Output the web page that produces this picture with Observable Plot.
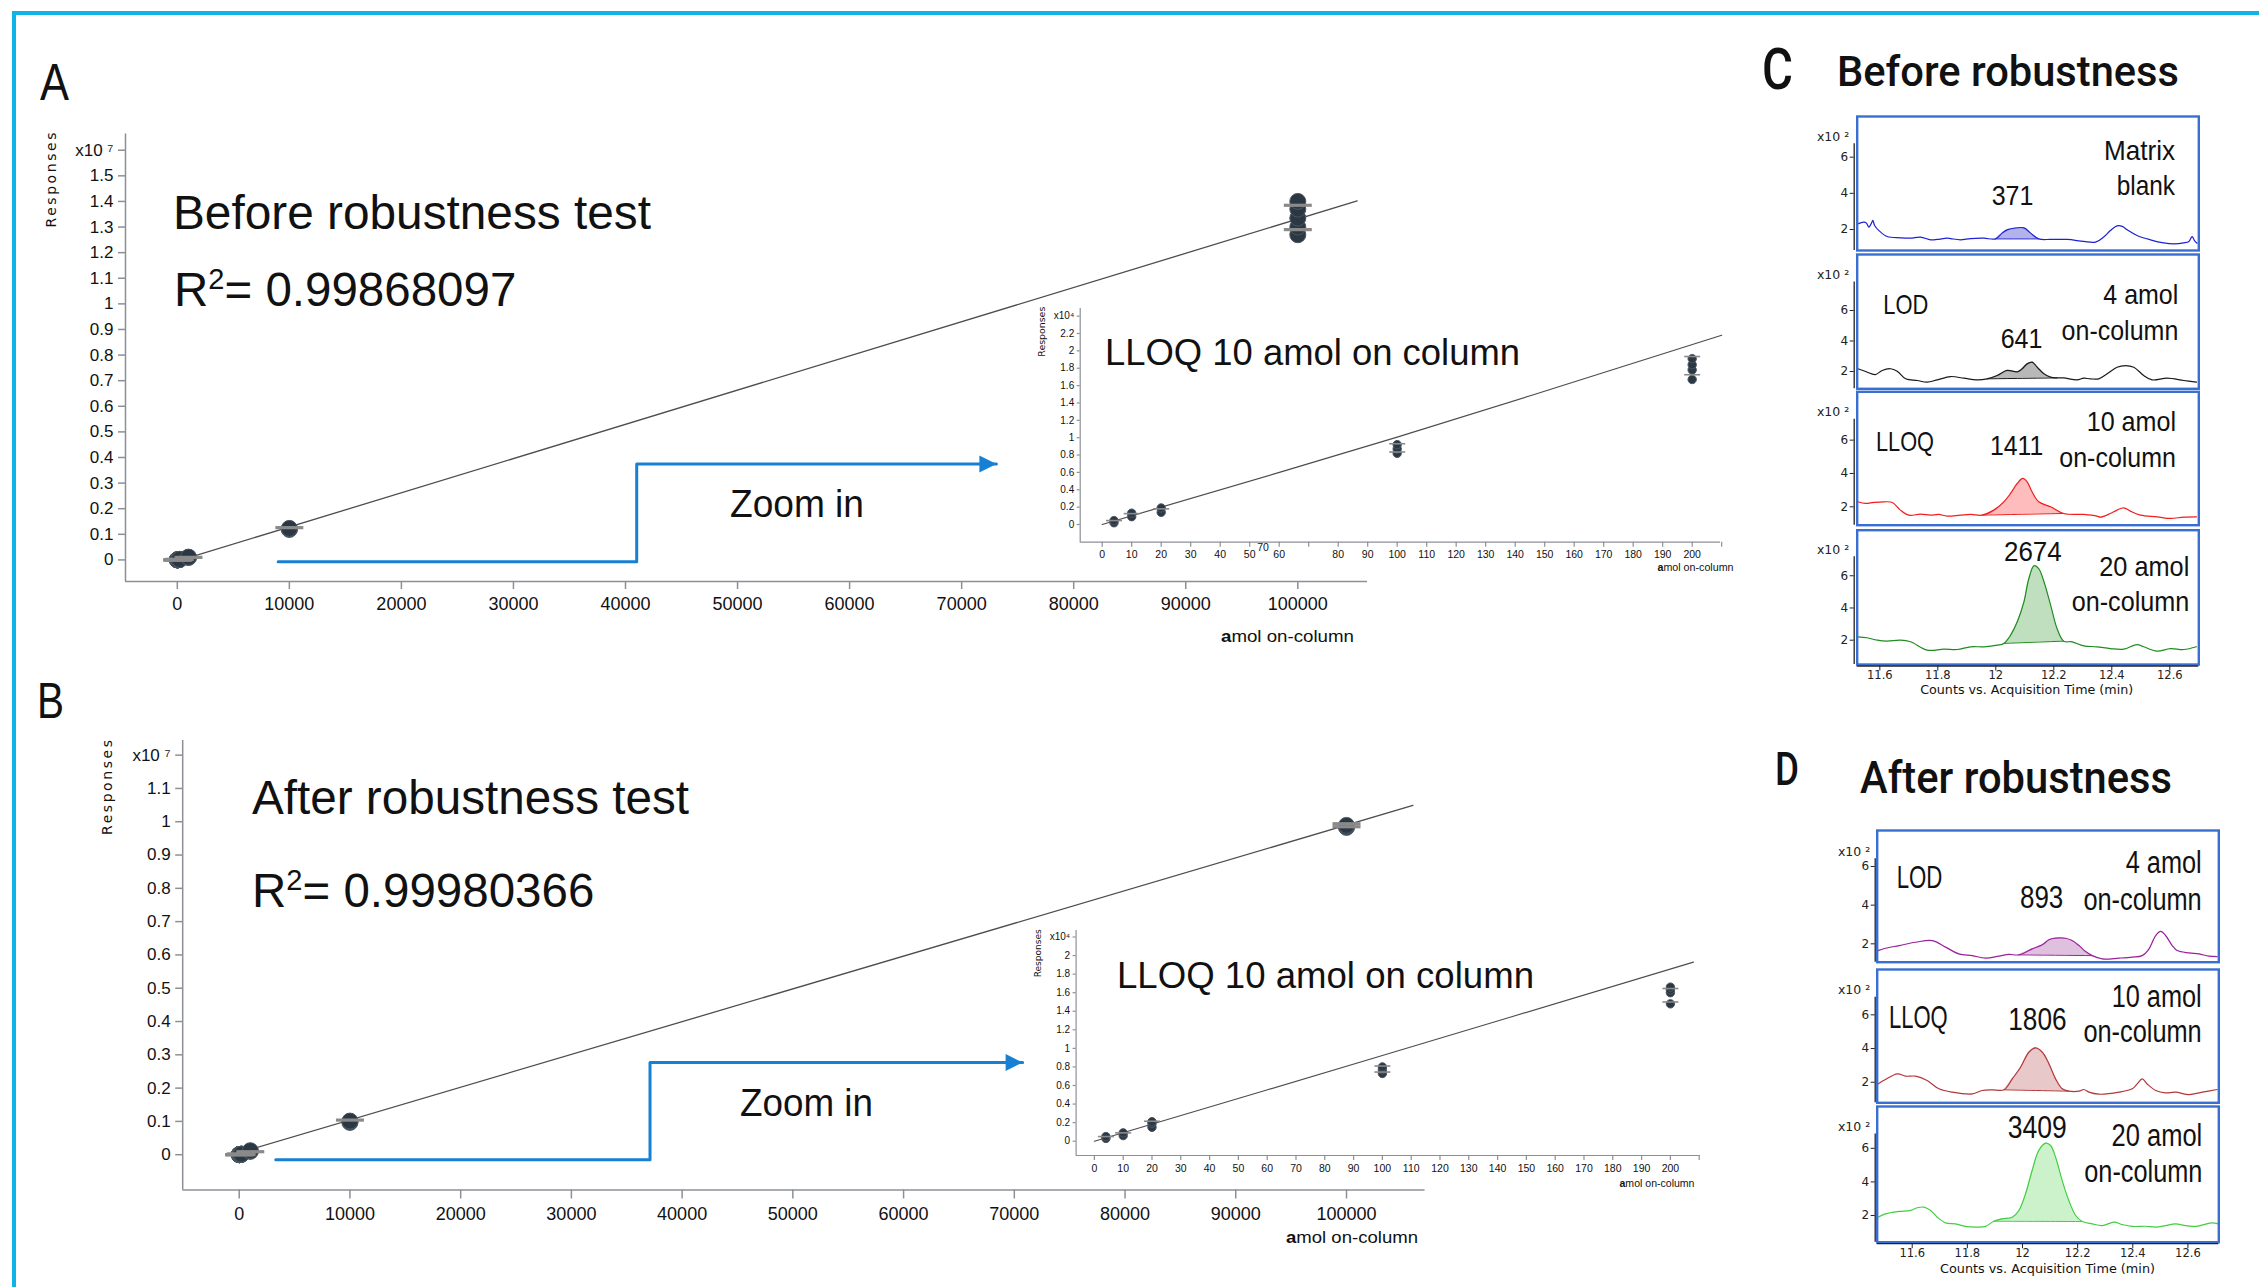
<!DOCTYPE html>
<html>
<head>
<meta charset="utf-8">
<title>Calibration curves and chromatograms before and after robustness testing</title>
<script src="https://cdn.jsdelivr.net/npm/d3@7"></script>
<script src="https://cdn.jsdelivr.net/npm/@observablehq/plot@0.6"></script>
<style>
  html, body { margin: 0; padding: 0; background: #fff; overflow: hidden; }
  #page { position: relative; width: 2259px; height: 1287px; overflow: hidden; background: #fff; }
  #page > svg { position: absolute; left: 0; top: 0; }
  #page .border { position: absolute; background: #0fb3e6; }
</style>
</head>
<body>
<div id="page"></div>
<script>
// ---------------------------------------------------------------------------
// Calibration data (amol on-column vs. response counts)
// ---------------------------------------------------------------------------
const levels = [4, 10, 20, 100, 200, 1000, 10000, 100000];

// replicate responses, before the robustness test
const responsesBefore = [
  [200, 450],
  [900, 1300],
  [1400, 1900],
  [8200, 8700, 9200],
  [16700, 17800, 18400, 19100],
  [95000, 110000],
  [1190000, 1210000, 1230000],
  [12700000, 13000000, 13350000, 13700000, 14000000]
];
// mean / spread markers, before
const barsBefore = [
  [450], [1250], [1800], [9300, 8350], [19350, 17250],
  [100000], [1260000], [13850000, 12900000]
];

// replicate responses, after the robustness test
const responsesAfter = [
  [300, 500],
  [600, 900],
  [1500, 1900, 2100],
  [7300, 7700, 8000],
  [14800, 16000, 16300, 16600],
  [100000, 120000],
  [970000, 990000, 1010000],
  [9830000, 9860000, 9890000]
];
const barsAfter = [
  [500], [900], [2150], [8100, 7450], [16450, 15000],
  [90000], [1040000], [9940000, 9850000]
];

// calibration fit lines
const fitBeforeMain  = {x: [0, 105300], y: [-50000, 14020000]};
const fitBeforeInset = {x: [0, 100, 210], y: [0, 10060, 21800]};
const fitAfterMain   = {x: [0, 106000], y: [60000, 10490000]};
const fitAfterInset  = {x: [0, 100, 208], y: [0, 9230, 19290]};

// "Zoom in" connector paths (x in amol, y in x10^7 counts)
const zoomArrowBefore = {x: [9000, 41000, 41000, 73100], y: [-0.007, -0.007, 0.375, 0.375]};
const zoomArrowAfter  = {x: [3300, 37100, 37100, 70750], y: [-0.015, -0.015, 0.277, 0.277]};

// axis ticks and labels
const mainTicksX  = [0, 10000, 20000, 30000, 40000, 50000, 60000, 70000, 80000, 90000, 100000];
const mainLabelsX = ["0", "10000", "20000", "30000", "40000", "50000", "60000", "70000", "80000", "90000", "100000"];
const ticksYBefore  = [0, 0.1, 0.2, 0.3, 0.4, 0.5, 0.6, 0.7, 0.8, 0.9, 1, 1.1, 1.2, 1.3, 1.4, 1.5, 1.6];
const labelsYBefore = ["0", "0.1", "0.2", "0.3", "0.4", "0.5", "0.6", "0.7", "0.8", "0.9", "1", "1.1", "1.2", "1.3", "1.4", "1.5", "x10 \u2077"];
const ticksYAfter   = [0, 0.1, 0.2, 0.3, 0.4, 0.5, 0.6, 0.7, 0.8, 0.9, 1, 1.1, 1.2];
const labelsYAfter  = ["0", "0.1", "0.2", "0.3", "0.4", "0.5", "0.6", "0.7", "0.8", "0.9", "1", "1.1", "x10 \u2077"];

const insetTicksX = [0, 10, 20, 30, 40, 50, 60, 70, 80, 90, 100, 110, 120, 130, 140, 150, 160, 170, 180, 190, 200, 210];
const insetLabelsXBefore = ["0", "10", "20", "30", "40", "50", "60", "", "80", "90", "100", "110", "120", "130", "140", "150", "160", "170", "180", "190", "200", ""];
const insetLabelsXAfter  = ["0", "10", "20", "30", "40", "50", "60", "70", "80", "90", "100", "110", "120", "130", "140", "150", "160", "170", "180", "190", "200", ""];
const insetStrayLabelBefore = {text: "70", at: 54.5};
const insetTicksYBefore  = [0, 0.2, 0.4, 0.6, 0.8, 1, 1.2, 1.4, 1.6, 1.8, 2, 2.2, 2.4];
const insetLabelsYBefore = ["0", "0.2", "0.4", "0.6", "0.8", "1", "1.2", "1.4", "1.6", "1.8", "2", "2.2", "x10\u2074"];
const insetTicksYAfter   = [0, 0.2, 0.4, 0.6, 0.8, 1, 1.2, 1.4, 1.6, 1.8, 2, 2.2];
const insetLabelsYAfter  = ["0", "0.2", "0.4", "0.6", "0.8", "1", "1.2", "1.4", "1.6", "1.8", "2", "x10\u2074"];

// ---------------------------------------------------------------------------
// Extracted ion chromatograms (time in min, counts in x10^2)
// ---------------------------------------------------------------------------
const timeTicks  = [11.6, 11.8, 12, 12.2, 12.4, 12.6];
const timeLabels = ["11.6", "11.8", "12", "12.2", "12.4", "12.6"];
const intensityTicks = [2, 4, 6];

// C: before robustness
const blankT = [11.524, 11.545, 11.554, 11.562, 11.570, 11.576, 11.582, 11.597, 11.625, 11.671, 11.706, 11.740, 11.775, 11.798, 11.832, 11.844, 11.878, 11.913, 11.959, 11.999, 12.022, 12.039, 12.062, 12.097, 12.120, 12.148, 12.189, 12.246, 12.303, 12.344, 12.372, 12.395, 12.418, 12.436, 12.453, 12.487, 12.533, 12.579, 12.614, 12.648, 12.666, 12.677, 12.685, 12.694];
const blankV = [2.31, 2.41, 2.35, 2.13, 2.31, 2.50, 2.22, 1.94, 1.61, 1.54, 1.52, 1.58, 1.43, 1.45, 1.52, 1.50, 1.43, 1.50, 1.52, 1.48, 1.80, 1.98, 2.07, 2.09, 1.80, 1.48, 1.45, 1.45, 1.34, 1.30, 1.58, 1.94, 2.20, 2.17, 1.98, 1.67, 1.43, 1.26, 1.21, 1.26, 1.34, 1.61, 1.39, 1.24];
const blankPeak = [11.999, 12.148];

const lodBeforeT = [11.524, 11.551, 11.585, 11.608, 11.637, 11.660, 11.689, 11.729, 11.763, 11.798, 11.844, 11.890, 11.936, 11.970, 12.005, 12.039, 12.074, 12.091, 12.108, 12.125, 12.143, 12.166, 12.189, 12.211, 12.234, 12.280, 12.303, 12.326, 12.355, 12.384, 12.418, 12.447, 12.476, 12.510, 12.539, 12.591, 12.648, 12.692];
const lodBeforeV = [2.18, 2.00, 1.80, 2.07, 2.18, 2.02, 1.52, 1.41, 1.30, 1.45, 1.67, 1.56, 1.45, 1.52, 1.74, 2.07, 1.98, 2.18, 2.50, 2.61, 2.28, 1.85, 1.63, 1.58, 1.58, 1.45, 1.56, 1.52, 1.52, 1.85, 2.28, 2.39, 2.28, 1.74, 1.45, 1.56, 1.41, 1.30];
const lodBeforePeak = [11.970, 12.211];

const lloqBeforeT = [11.524, 11.551, 11.579, 11.614, 11.643, 11.671, 11.700, 11.740, 11.775, 11.803, 11.832, 11.878, 11.913, 11.953, 11.993, 12.028, 12.051, 12.074, 12.093, 12.108, 12.125, 12.148, 12.189, 12.234, 12.303, 12.349, 12.361, 12.395, 12.418, 12.441, 12.464, 12.499, 12.556, 12.602, 12.648, 12.692];
const lloqBeforeV = [2.30, 2.20, 2.26, 2.30, 2.26, 1.80, 1.50, 1.56, 1.50, 1.54, 1.44, 1.50, 1.54, 1.50, 1.80, 2.30, 2.80, 3.40, 3.70, 3.50, 2.90, 2.30, 2.00, 1.60, 1.54, 1.44, 1.38, 1.60, 1.80, 1.94, 1.74, 1.50, 1.40, 1.30, 1.38, 1.40];
const lloqBeforePeak = [11.953, 12.234];

const amol20BeforeT = [11.524, 11.556, 11.591, 11.625, 11.671, 11.706, 11.763, 11.821, 11.867, 11.913, 11.959, 12.005, 12.028, 12.051, 12.074, 12.097, 12.114, 12.132, 12.148, 12.166, 12.189, 12.211, 12.234, 12.263, 12.303, 12.349, 12.395, 12.441, 12.487, 12.510, 12.556, 12.602, 12.648, 12.692];
const amol20BeforeV = [2.21, 2.15, 2.00, 1.94, 2.00, 1.90, 1.38, 1.44, 1.42, 1.59, 1.59, 1.69, 1.80, 2.31, 3.14, 4.38, 5.83, 6.62, 6.45, 5.63, 4.18, 2.73, 1.94, 1.90, 1.65, 1.59, 1.48, 1.44, 1.73, 1.59, 1.32, 1.48, 1.42, 1.59];
const amol20BeforePeak = [12.028, 12.234];

// D: after robustness
const lodAfterT = [11.476, 11.503, 11.552, 11.612, 11.673, 11.721, 11.769, 11.818, 11.866, 11.914, 11.951, 11.987, 12.035, 12.072, 12.096, 12.120, 12.156, 12.180, 12.205, 12.229, 12.253, 12.289, 12.350, 12.398, 12.434, 12.459, 12.483, 12.501, 12.519, 12.543, 12.561, 12.604, 12.640, 12.676, 12.706];
const lodAfterV = [1.65, 1.77, 1.91, 2.08, 2.17, 1.83, 1.48, 1.39, 1.26, 1.36, 1.45, 1.43, 1.74, 1.95, 2.21, 2.29, 2.29, 2.17, 1.91, 1.60, 1.39, 1.22, 1.26, 1.31, 1.39, 1.74, 2.43, 2.64, 2.43, 1.91, 1.65, 1.53, 1.48, 1.36, 1.34];
const lodAfterPeak = [11.987, 12.253];

const lloqAfterT = [11.476, 11.503, 11.546, 11.576, 11.612, 11.654, 11.697, 11.745, 11.818, 11.854, 11.890, 11.933, 11.963, 11.993, 12.023, 12.047, 12.072, 12.096, 12.120, 12.144, 12.168, 12.205, 12.223, 12.241, 12.277, 12.350, 12.398, 12.416, 12.434, 12.452, 12.483, 12.519, 12.555, 12.604, 12.652, 12.706];
const lloqAfterV = [1.90, 2.16, 2.50, 2.36, 2.36, 2.10, 1.61, 1.41, 1.31, 1.51, 1.55, 1.55, 2.20, 2.89, 3.78, 4.04, 3.78, 3.09, 2.20, 1.61, 1.47, 1.47, 1.57, 1.41, 1.29, 1.41, 1.61, 1.90, 2.20, 1.90, 1.51, 1.37, 1.41, 1.27, 1.41, 1.57];
const lloqAfterPeak = [11.933, 12.168];

const amol20AfterT = [11.476, 11.503, 11.552, 11.594, 11.618, 11.642, 11.667, 11.691, 11.721, 11.757, 11.793, 11.830, 11.866, 11.896, 11.926, 11.963, 11.987, 12.011, 12.035, 12.059, 12.084, 12.102, 12.120, 12.144, 12.168, 12.193, 12.217, 12.253, 12.289, 12.332, 12.362, 12.398, 12.446, 12.483, 12.519, 12.555, 12.592, 12.628, 12.658, 12.688, 12.710];
const amol20AfterV = [1.90, 2.10, 2.24, 2.30, 2.46, 2.50, 2.30, 1.90, 1.56, 1.50, 1.35, 1.31, 1.35, 1.66, 1.80, 1.90, 2.30, 3.29, 4.68, 5.87, 6.31, 6.17, 5.47, 4.08, 2.89, 2.00, 1.64, 1.50, 1.40, 1.60, 1.46, 1.35, 1.36, 1.31, 1.40, 1.50, 1.40, 1.35, 1.46, 1.56, 1.50];
const amol20AfterPeak = [11.896, 12.217];

// ---------------------------------------------------------------------------
// Styling
// ---------------------------------------------------------------------------
const W = 2259, H = 1287;
const SANS  = "'Liberation Sans', Arial, Helvetica, sans-serif";
const WIDE  = "'DejaVu Sans', Verdana, sans-serif";
const TITLE = "Roboto, 'Liberation Sans', sans-serif";
const AXIS_GRAY = "#8c9096";
const DOT_FILL = "#2c3744", DOT_EDGE = "#4b5663";
const BAR_GRAY = "#8a8a8a";
const ZOOM_BLUE = "#1681d4";
const FIT_COLOR = "#4d4d4d";
const BOX_BLUE = "#3a6fd2";

const page = document.getElementById("page");
[[12, 11, W - 12, 4], [12, 11, 4, H - 11]].forEach(([l, t, w, h]) => {
  const d = document.createElement("div");
  d.className = "border";
  Object.assign(d.style, {left: l + "px", top: t + "px", width: w + "px", height: h + "px"});
  page.appendChild(d);
});

// horizontal mean marker drawn as a fixed-length line
const meanBar = half => ({draw(ctx) { ctx.moveTo(-half, 0); ctx.lineTo(half, 0); }});
// filled arrow head with its tip on the point
const arrowHead = {draw(ctx) { ctx.moveTo(0, 0); ctx.lineTo(-17, -8.5); ctx.lineTo(-17, 8.5); ctx.closePath(); }};

const replicateRows = resp => levels.flatMap((level, i) => resp[i].map(r => ({level, r})));

function framed(frame, xDomain, yDomain, marks, extra = {}) {
  const [left, right, top, bottom] = frame;
  return Plot.plot({
    width: W, height: H,
    marginLeft: left, marginRight: W - right, marginTop: top, marginBottom: H - bottom,
    x: {domain: xDomain, ...(extra.x || {})},
    y: {domain: yDomain, ...(extra.y || {})},
    style: {background: "transparent", overflow: "visible"},
    marks
  });
}

function calibration(c) {
  const rows = replicateRows(c.responses).filter(d => d.level <= c.maxLevel);
  const bars = replicateRows(c.bars).filter(d => d.level <= c.maxLevel);
  const fit = c.fit.x.map((x, i) => ({x, y: c.fit.y[i] / c.unit}));
  const xLab = new Map(c.xTicks.map((t, i) => [t, c.xLabels[i]]));
  const yLab = new Map(c.yTicks.map((t, i) => [t, c.yLabels[i]]));
  const marks = [
    Plot.ruleY([c.yDomain[0]], {stroke: AXIS_GRAY, strokeWidth: c.axisWidth}),
    Plot.ruleX([c.xDomain[0]], {stroke: AXIS_GRAY, strokeWidth: c.axisWidth}),
    Plot.axisX({ticks: c.xTicks, tickFormat: d => xLab.get(d), tickSize: c.xTickSize, tickPadding: c.xTickPadding,
      fontSize: c.xFont, fontFamily: SANS, stroke: AXIS_GRAY, strokeWidth: c.axisWidth, fill: "#111", label: null}),
    Plot.axisY({ticks: c.yTicks, tickFormat: d => yLab.get(d), tickSize: c.yTickSize, tickPadding: c.yTickPadding,
      fontSize: c.yFont, fontFamily: SANS, stroke: AXIS_GRAY, strokeWidth: c.axisWidth, fill: "#111", label: null}),
    Plot.line(fit, {x: "x", y: "y", stroke: FIT_COLOR, strokeWidth: c.fitWidth, curve: "catmull-rom"}),
    Plot.dot(rows, {x: "level", y: d => d.r / c.unit, r: c.dotR, fill: DOT_FILL, stroke: DOT_EDGE, strokeWidth: 1}),
    Plot.dot(bars, {x: "level", y: d => d.r / c.unit, symbol: meanBar(c.barHalf), fill: "none", stroke: BAR_GRAY, strokeWidth: c.barWidth})
  ];
  if (c.arrow) {
    const path = c.arrow.x.map((x, i) => ({x, y: c.arrow.y[i]}));
    marks.push(
      Plot.line(path, {x: "x", y: "y", stroke: ZOOM_BLUE, strokeWidth: 3}),
      Plot.dot(path.slice(-1), {x: "x", y: "y", symbol: arrowHead, fill: ZOOM_BLUE, stroke: "none"})
    );
  }
  if (c.stray) {
    marks.push(Plot.text([c.stray.text], {x: () => c.stray.at, y: () => c.yDomain[0], text: d => d, dy: 5,
      fontSize: c.xFont, fontFamily: SANS, fill: "#111"}));
  }
  return framed(c.frame, c.xDomain, c.yDomain, marks);
}

const mainCommon = {maxLevel: Infinity, unit: 1e7, xTicks: mainTicksX, xLabels: mainLabelsX,
  axisWidth: 1.5, xFont: 18, yFont: 17, xTickSize: 8, xTickPadding: 8, yTickSize: 7, yTickPadding: 5,
  dotR: 8, barHalf: 14, barWidth: 3.2, fitWidth: 1.3};
const insetCommon = {maxLevel: 200, unit: 1e4, xTicks: insetTicksX,
  axisWidth: 1.2, xFont: 10.5, yFont: 10, xTickSize: 5, xTickPadding: 3, yTickSize: 3, yTickPadding: 3,
  dotR: 4.2, barHalf: 8, barWidth: 1.6, fitWidth: 1.2};

const charts = [
  calibration({...mainCommon, frame: [125, 1367, 133.6, 581], xDomain: [-4623, 106220], yDomain: [-0.0843, 1.663],
    responses: responsesBefore, bars: barsBefore, fit: fitBeforeMain, yTicks: ticksYBefore, yLabels: labelsYBefore,
    arrow: zoomArrowBefore}),
  calibration({...insetCommon, frame: [1079.7, 1720, 308, 541.7], xDomain: [-7.46, 209.6], yDomain: [-0.204, 2.488],
    responses: responsesBefore, bars: barsBefore, fit: fitBeforeInset, xLabels: insetLabelsXBefore,
    yTicks: insetTicksYBefore, yLabels: insetLabelsYBefore, stray: insetStrayLabelBefore}),
  calibration({...mainCommon, frame: [182.2, 1424.6, 740, 1189.5], xDomain: [-5103, 107098], yDomain: [-0.106, 1.244],
    responses: responsesAfter, bars: barsAfter, fit: fitAfterMain, yTicks: ticksYAfter, yLabels: labelsYAfter,
    xTickSize: 9, arrow: zoomArrowAfter}),
  calibration({...insetCommon, frame: [1075.6, 1699.7, 930, 1155], xDomain: [-6.35, 210.35], yDomain: [-0.154, 2.27],
    responses: responsesAfter, bars: barsAfter, fit: fitAfterInset, xLabels: insetLabelsXAfter,
    yTicks: insetTicksYAfter, yLabels: insetLabelsYAfter, xTickPadding: 4})
];

function chromatogram(c) {
  const pts = c.t.map((t, i) => ({t, v: c.v[i]}));
  const i0 = c.t.indexOf(c.peak[0]), i1 = c.t.indexOf(c.peak[1]);
  const b0 = c.v[i0], b1 = c.v[i1];
  const peak = pts.slice(i0, i1 + 1).map(d => ({...d, base: b0 + (b1 - b0) * (d.t - c.peak[0]) / (c.peak[1] - c.peak[0])}));
  const x0 = c.xDomain[0];
  const tLab = new Map(timeTicks.map((t, i) => [t, timeLabels[i]]));
  const marks = [
    Plot.areaY(peak, {x: "t", y1: "base", y2: "v", fill: c.fill, curve: "catmull-rom"}),
    Plot.line(peak, {x: "t", y: "base", stroke: c.stroke, strokeWidth: 1}),
    Plot.line(pts, {x: "t", y: "v", stroke: c.stroke, strokeWidth: 1.2, curve: "catmull-rom", clip: true}),
    Plot.ruleX([x0], {y1: c.axisTop, y2: c.yDomain[0], dx: c.axisDx, stroke: "#222", strokeWidth: 1.3}),
    Plot.axisY({ticks: intensityTicks, tickFormat: d => String(d), tickSize: 4, tickPadding: 2, dx: c.axisDx,
      fontSize: 12, fontFamily: WIDE, stroke: "#222", fill: "#222", label: null}),
    Plot.text(["x10 \u00b2"], {x: () => x0, y: () => c.axisTop, text: d => d, dx: c.axisDx - 5, dy: -3,
      textAnchor: "end", lineAnchor: "bottom", fontSize: 12.5, fontFamily: WIDE, fill: "#222"}),
    Plot.frame({stroke: BOX_BLUE, strokeWidth: 2.4})
  ];
  if (c.timeAxis) {
    marks.push(
      Plot.ruleY([c.yDomain[0]], {stroke: "#222", strokeWidth: 1.3, dy: 1.5}),
      Plot.axisX({ticks: timeTicks, tickFormat: d => tLab.get(d), tickSize: 5, tickPadding: 0, dy: 1.5,
        fontSize: 11.5, fontFamily: WIDE, stroke: "#222", fill: "#222", label: null})
    );
  }
  return framed(c.frame, c.xDomain, c.yDomain, marks, c.timeAxis ? {} : {x: {axis: null}});
}

const cX = [1856.7, 2198.3], cDomain = [11.522, 12.700];
const dX = [1876.7, 2218.3], dDomain = [11.473, 12.712];
charts.push(
  chromatogram({t: blankT, v: blankV, peak: blankPeak, stroke: "#1f1fd6", fill: "#b3b3ec",
    frame: [...cX, 116, 250], xDomain: cDomain, yDomain: [0.838, 8.25], axisTop: 6.74, axisDx: -3}),
  chromatogram({t: lodBeforeT, v: lodBeforeV, peak: lodBeforePeak, stroke: "#1a1a1a", fill: "#b8b8b8",
    frame: [...cX, 254, 388.3], xDomain: cDomain, yDomain: [0.866, 9.67], axisTop: 7.86, axisDx: -3}),
  chromatogram({t: lloqBeforeT, v: lloqBeforeV, peak: lloqBeforePeak, stroke: "#f21d1d", fill: "#ffbcbc",
    frame: [...cX, 391.3, 524.7], xDomain: cDomain, yDomain: [0.896, 8.90], axisTop: 7.25, axisDx: -3}),
  chromatogram({t: amol20BeforeT, v: amol20BeforeV, peak: amol20BeforePeak, stroke: "#1e8c1e", fill: "#bfdfbf",
    frame: [...cX, 529.7, 664], xDomain: cDomain, yDomain: [0.49, 8.83], axisTop: 7.18, axisDx: -3, timeAxis: true}),
  chromatogram({t: lodAfterT, v: lodAfterV, peak: lodAfterPeak, stroke: "#9a1f9a", fill: "#dfc0df",
    frame: [...dX, 830, 961.7], xDomain: dDomain, yDomain: [1.05, 7.86], axisTop: 6.4, axisDx: -2}),
  chromatogram({t: lloqAfterT, v: lloqAfterV, peak: lloqAfterPeak, stroke: "#b2373a", fill: "#e8c8c8",
    frame: [...dX, 969, 1102.3], xDomain: dDomain, yDomain: [0.78, 8.69], axisTop: 7.04, axisDx: -2}),
  chromatogram({t: amol20AfterT, v: amol20AfterV, peak: amol20AfterPeak, stroke: "#3fcf3f", fill: "#ccf2cc",
    frame: [...dX, 1106, 1241.7], xDomain: dDomain, yDomain: [0.41, 8.49], axisTop: 6.86, axisDx: -2, timeAxis: true})
);
charts.forEach(svg => page.appendChild(svg));

// ---------------------------------------------------------------------------
// Titles, panel letters and annotations
// ---------------------------------------------------------------------------
const ov = d3.select(page).append("svg").attr("width", W).attr("height", H);

function label(o) {
  const t = ov.append("text")
    .attr("x", o.x).attr("y", o.y)
    .attr("font-family", o.font || SANS).attr("font-size", o.size)
    .attr("font-weight", o.weight || "normal")
    .attr("text-anchor", o.anchor || "start").attr("fill", o.fill || "#111");
  if (o.width) t.attr("textLength", o.width).attr("lengthAdjust", o.adjust || "spacingAndGlyphs");
  if (o.rotate) t.attr("transform", `rotate(-90 ${o.x} ${o.y})`);
  if (o.parts) {
    o.parts.forEach(p => {
      const s = t.append("tspan").text(p.text);
      if (p.weight) s.attr("font-weight", p.weight);
      if (p.size) s.attr("font-size", p.size);
      if (p.dy) s.attr("dy", p.dy);
    });
  } else {
    t.text(o.text);
  }
  return t;
}

// panel letters
label({text: "A", x: 40, y: 100, size: 51, width: 29});
label({text: "B", x: 37, y: 718, size: 50, width: 27});
label({text: "C", x: 1762, y: 89, size: 58, font: TITLE, weight: 500, width: 31});
label({text: "D", x: 1775, y: 785, size: 47, font: TITLE, weight: 500, width: 24});

// calibration titles
label({text: "Before robustness test", x: 173, y: 228.5, size: 47.5, width: 478});
label({x: 174, y: 306, size: 47.5, parts: [
  {text: "R"}, {text: "2", size: 29, dy: -17}, {text: "= 0.99868097", size: 47.5, dy: 17}]});
label({text: "After robustness test", x: 252, y: 813.6, size: 47.5, width: 437});
label({x: 252, y: 906.5, size: 47.5, parts: [
  {text: "R"}, {text: "2", size: 29, dy: -17}, {text: "= 0.99980366", size: 47.5, dy: 17}]});
label({text: "Zoom in", x: 730, y: 517, size: 38, width: 134});
label({text: "Zoom in", x: 740, y: 1115.5, size: 38, width: 133});
label({text: "LLOQ 10 amol on column", x: 1105, y: 365, size: 36, width: 415});
label({text: "LLOQ 10 amol on column", x: 1117, y: 988, size: 36, width: 417});

// axis titles
label({text: "Responses", x: 56, y: 180, size: 14, font: WIDE, anchor: "middle", rotate: true, width: 95, adjust: "spacing"});
label({text: "Responses", x: 112, y: 787.5, size: 14, font: WIDE, anchor: "middle", rotate: true, width: 95, adjust: "spacing"});
label({text: "Responses", x: 1045.5, y: 331.7, size: 9, font: WIDE, anchor: "middle", rotate: true, width: 50});
label({text: "Responses", x: 1041.5, y: 953.3, size: 9, font: WIDE, anchor: "middle", rotate: true, width: 48});
const amolParts = [{text: "a", weight: "bold"}, {text: "mol on-column"}];
label({x: 1354, y: 641.5, size: 17, anchor: "end", width: 133, parts: amolParts});
label({x: 1418, y: 1242.5, size: 17, anchor: "end", width: 132, parts: amolParts});
label({x: 1733.5, y: 571, size: 10.5, anchor: "end", width: 76, parts: amolParts});
label({x: 1694.5, y: 1186.5, size: 10.5, anchor: "end", width: 75, parts: amolParts});
label({text: "Counts vs. Acquisition Time (min)", x: 2026.7, y: 694, size: 12.5, font: WIDE, anchor: "middle", width: 213});
label({text: "Counts vs. Acquisition Time (min)", x: 2047.5, y: 1272.5, size: 12.5, font: WIDE, anchor: "middle", width: 215});

// chromatogram headings
label({text: "Before robustness", x: 1837, y: 86, size: 43, font: TITLE, weight: 500, width: 342});
label({text: "After robustness", x: 1860, y: 793, size: 44, font: TITLE, weight: 500, width: 312});

// chromatogram annotations: sample, peak area, amount
[
  ["Matrix", 2175, 159.5, "end", 71, 28], ["blank", 2175, 195, "end", 58.3, 28], ["371", 1991.7, 205, "start", 41.7, 28],
  ["LOD", 1883.3, 314.3, "start", 45, 28], ["4 amol", 2178.3, 304.3, "end", 75, 28],
  ["on-column", 2178.3, 340, "end", 116.7, 28], ["641", 2000.7, 348.3, "start", 41.7, 28],
  ["LLOQ", 1876, 450.5, "start", 58, 28], ["1411", 1990, 454.7, "start", 53.3, 28],
  ["10 amol", 2176, 431.3, "end", 89.3, 28], ["on-column", 2176, 467.3, "end", 116.7, 28],
  ["2674", 2004, 560.7, "start", 57.7, 28], ["20 amol", 2189.3, 576.3, "end", 90, 28],
  ["on-column", 2189.3, 611.3, "end", 117.6, 28],
  ["LOD", 1896.7, 887.7, "start", 45.7, 31], ["4 amol", 2201.7, 873.3, "end", 76, 31],
  ["on-column", 2201.7, 910, "end", 118.3, 31], ["893", 2020, 907.7, "start", 43.3, 31],
  ["LLOQ", 1889, 1028.3, "start", 58.7, 31], ["1806", 2008.3, 1030, "start", 58.3, 31],
  ["10 amol", 2201.7, 1006.7, "end", 90, 31], ["on-column", 2201.7, 1041.7, "end", 118.3, 31],
  ["3409", 2007.7, 1138.3, "start", 59, 31], ["20 amol", 2202.3, 1146, "end", 90.7, 31],
  ["on-column", 2202.3, 1181.7, "end", 118, 31]
].forEach(([text, x, y, anchor, width, size]) => label({text, x, y, anchor, width, size}));
</script>
</body>
</html>
